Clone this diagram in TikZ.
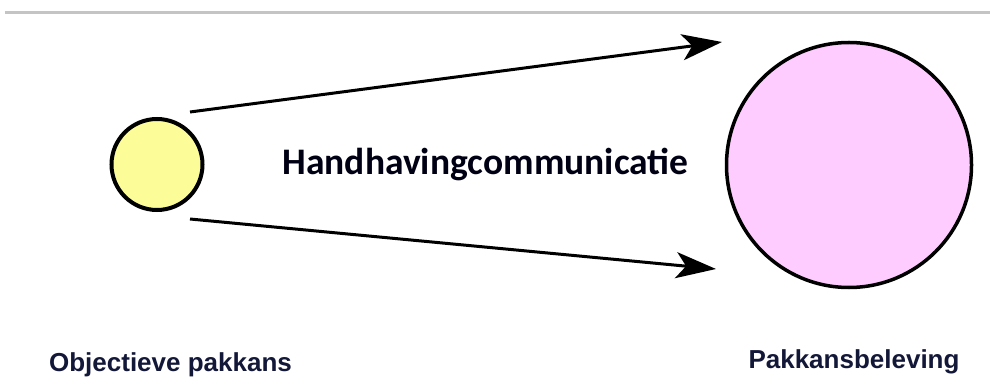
\documentclass[tikz,border=0pt]{standalone}
\usepackage{fontspec}
\setmainfont{Liberation Sans}
\newfontfamily\calib{Carlito}
\usetikzlibrary{arrows.meta}
\definecolor{yfill}{HTML}{FCFC99}
\definecolor{pfill}{HTML}{FFCCFF}
\definecolor{navy}{HTML}{141838}
\definecolor{rulegray}{HTML}{C4C4C4}
\tikzset{
  bubble/.style={circle, draw=black, inner sep=0pt},
  conn/.style={line width=3pt, -{Stealth[length=40pt, width=26pt, inset=10pt]}},
  lab/.style={font=\fontsize{26}{29}\selectfont\bfseries, text=navy, anchor=base, inner sep=0pt}
}
\begin{document}
\begin{tikzpicture}[x=1pt, y=-1pt]
\useasboundingbox (0,0) rectangle (990,387);
\fill[white] (0,0) rectangle (990,387);
\draw[rulegray, line width=3pt] (5,13) coordinate (r1) -- (990,13) coordinate (r2);
\node[bubble, fill=yfill, line width=4pt, minimum size=91pt] (obj) at (157,164.5) {};
\node[bubble, fill=pfill, line width=3.5pt, minimum size=245pt] (bel) at (849,165) {};
\coordinate (s1) at (190,112);
\coordinate (t1) at (722,42);
\coordinate (s2) at (190,219);
\coordinate (t2) at (716,269);
\draw[conn] (s1) -- (t1);
\draw[conn] (s2) -- (t2);
\node[font=\calib\fontsize{37.5}{42}\selectfont\bfseries, text=black!92!blue, inner sep=0pt] (hc) at (485.5,164) {Handhavingcommunicatie};
\node[lab] (l1) at (170.5,371) {Objectieve pakkans};
\node[lab] (l2) at (854,368) {Pakkansbeleving};
\end{tikzpicture}
\end{document}
